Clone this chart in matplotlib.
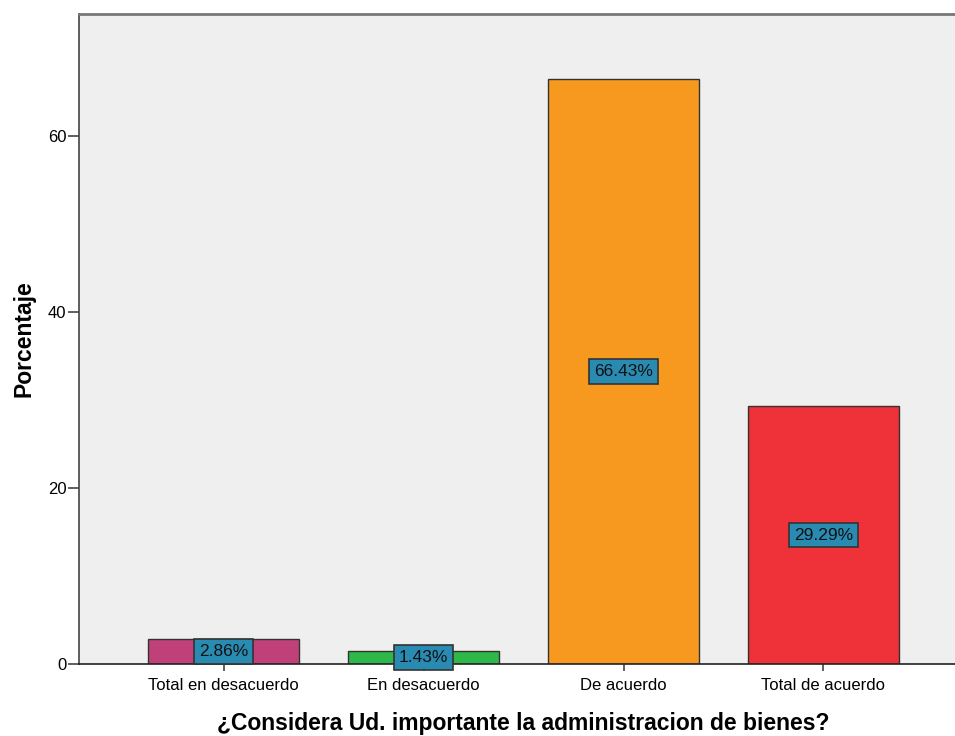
import numpy as np
import matplotlib.pyplot as plt

plt.rcParams['font.family'] = ['Liberation Sans', 'DejaVu Sans']

categories = ['Total en desacuerdo', 'En desacuerdo', 'De acuerdo', 'Total de acuerdo']
percentages = [2.86, 1.43, 66.43, 29.29]
bar_colors = ['#c0407a', '#2fb84a', '#f7991e', '#ef3139']

fig = plt.figure(figsize=(9.55, 7.36), dpi=100)
ax = fig.add_axes([79 / 955, 72 / 736, 889 / 955, 650 / 736])
ax.set_facecolor('#efefef')

x = np.arange(len(categories))
ax.bar(x, percentages, width=0.755, color=bar_colors, edgecolor='#333333', linewidth=1.0, zorder=2)

# value labels in the middle of each bar
for xi, v in zip(x, percentages):
    ax.text(xi, v / 2, f'{v:.2f}%', ha='center', va='center', fontsize=12.5, color='#111111', zorder=3,
            bbox=dict(boxstyle='square,pad=0.28', facecolor='#2a8bb2', edgecolor='#333333', linewidth=1.2))

ax.set_xlim(-0.7225, 3.7225)
ax.set_ylim(0, 73.86)
ax.set_xticks(x)
ax.set_xticklabels(categories, fontsize=12)
ax.set_yticks([0, 20, 40, 60])
ax.tick_params(axis='y', direction='out', length=8, width=1.2, color='#444444', labelsize=12, pad=1)
ax.tick_params(axis='x', direction='out', length=5, width=1.2, color='#444444', labelsize=12, pad=5)

ax.spines['right'].set_visible(False)
ax.spines['top'].set_color('#777777')
ax.spines['top'].set_linewidth(2)
ax.spines['left'].set_color('#444444')
ax.spines['left'].set_linewidth(1.2)
ax.spines['bottom'].set_color('#222222')
ax.spines['bottom'].set_linewidth(1.2)

ax.set_ylabel('Porcentaje', fontsize=16.5, fontweight='bold', labelpad=9)
ax.set_xlabel('¿Considera Ud. importante la administracion de bienes?', fontsize=16.5, fontweight='bold', labelpad=14)

fig.savefig('out.png', dpi=100)
